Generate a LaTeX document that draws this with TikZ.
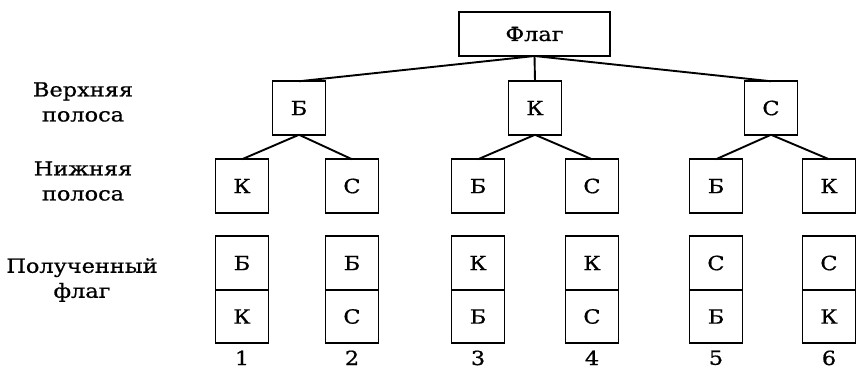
\documentclass[tikz,border=0pt]{standalone}
\usepackage{fontspec}
\setmainfont[FakeStretch=1.15, FakeBold=0.8]{DejaVu Serif}
\usepackage{tikz}
\usetikzlibrary{positioning}

\begin{document}
\begin{tikzpicture}[x=1pt, y=-1pt, line width=1.9pt,
    box/.style={draw, minimum width=53pt, minimum height=53.5pt, inner sep=0pt, outer sep=0pt},
    lbl/.style={align=center},
    every node/.style={font=\fontsize{19.5}{25}\selectfont}]
            \useasboundingbox (0,0) rectangle (856,368);
            % level labels
            \node[lbl] (lab_upper) at (83,102) {Верхняя\\полоса};
            \node[lbl] (lab_lower) at (83,181) {Нижняя\\полоса};
            \node[lbl] (lab_result) at (82,280) {Полученный\\флаг};
            % root
            \node[box, minimum width=151pt, minimum height=44pt] (flag) at (534.5,34) {Флаг};
            % upper stripe
            \node[box] (up_b) at (299,108) {Б};
            \node[box] (up_k) at (535,108) {К};
            \node[box] (up_s) at (771,108) {С};
            % lower stripe
            \node[box] (lo_1) at (242,186) {К};
            \node[box] (lo_2) at (352,186) {С};
            \node[box] (lo_3) at (478,186) {Б};
            \node[box] (lo_4) at (592,186) {С};
            \node[box] (lo_5) at (716,186) {Б};
            \node[box] (lo_6) at (829,186) {К};
            % resulting flags
            \node[box] (res_1t) at (242,263) {Б};
            \node[box] (res_1b) [below=0pt of res_1t] {К};
            \node[box] (res_2t) at (352,263) {Б};
            \node[box] (res_2b) [below=0pt of res_2t] {С};
            \node[box] (res_3t) at (478,263) {К};
            \node[box] (res_3b) [below=0pt of res_3t] {Б};
            \node[box] (res_4t) at (592,263) {К};
            \node[box] (res_4b) [below=0pt of res_4t] {С};
            \node[box] (res_5t) at (716,263) {С};
            \node[box] (res_5b) [below=0pt of res_5t] {Б};
            \node[box] (res_6t) at (829,263) {С};
            \node[box] (res_6b) [below=0pt of res_6t] {К};
            % numbers
            \node (num_1) [below=3pt of res_1b] {1};
            \node (num_2) [below=3pt of res_2b] {2};
            \node (num_3) [below=3pt of res_3b] {3};
            \node (num_4) [below=3pt of res_4b] {4};
            \node (num_5) [below=3pt of res_5b] {5};
            \node (num_6) [below=3pt of res_6b] {6};
            % tree edges
            \draw (flag.south) -- (up_b.north);
            \draw (flag.south) -- (up_k.north);
            \draw (flag.south) -- (up_s.north);
            \draw (up_b.south) -- (lo_1.north);
            \draw (up_b.south) -- (lo_2.north);
            \draw (up_k.south) -- (lo_3.north);
            \draw (up_k.south) -- (lo_4.north);
            \draw (up_s.south) -- (lo_5.north);
            \draw (up_s.south) -- (lo_6.north);
\end{tikzpicture}
\end{document}
